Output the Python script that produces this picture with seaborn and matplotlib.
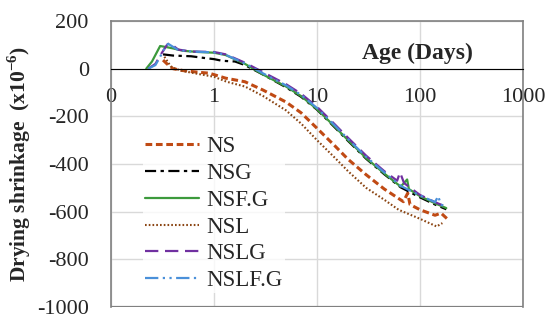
import numpy as np
import pandas as pd
import matplotlib
matplotlib.use("Agg")
import matplotlib.pyplot as plt
import seaborn as sns
from matplotlib.ticker import FixedLocator, FixedFormatter, NullLocator

# edad (dias) y retraccion (x10^-6) por mezcla
age_ns = [0.32, 0.35, 0.4, 0.5, 0.7, 0.9, 1.3, 2, 3, 5, 7, 10, 15, 20, 30, 45, 69, 76, 80, 100, 140, 160, 188]
val_ns = [36, 20, 0, -8, -15, -19, -40, -55, -90, -140, -185, -250, -325, -380, -445, -505, -558, -522, -570, -592, -615, -606, -634]

age_nsg = [0.32, 0.4, 0.6, 0.8, 1.0, 1.2, 1.6, 2, 3, 5, 7, 10, 15, 20, 30, 45, 65, 100, 140, 180]
val_nsg = [60, 55, 52, 45, 40, 33, 30, 15, -25, -78, -118, -172, -248, -303, -378, -443, -498, -540, -570, -590]

age_nsfg = [0.22, 0.25, 0.3, 0.35, 0.4, 0.5, 0.7, 1.0, 1.3, 2, 3, 5, 7, 10, 15, 20, 30, 45, 65, 75, 78, 100, 140, 180]
val_nsfg = [0, 30, 95, 90, 85, 75, 70, 67, 57, 20, -25, -75, -115, -170, -245, -300, -375, -440, -495, -465, -505, -535, -565, -585]

age_nsl = [0.33, 0.38, 0.42, 0.5, 0.7, 1.0, 1.33, 2, 3, 5, 7, 10, 15, 20, 30, 45, 62, 100, 145, 165]
val_nsl = [50, 10, 0, -10, -22, -34, -55, -75, -115, -175, -230, -300, -375, -430, -500, -550, -592, -630, -662, -648]

age_nslg = [0.23, 0.27, 0.3, 0.35, 0.37, 0.45, 0.6, 1.0, 1.3, 2, 3, 5, 7, 10, 15, 20, 30, 45, 60, 64, 70, 100, 140, 180]
val_nslg = [0, 20, 55, 100, 108, 80, 72, 70, 60, 25, -15, -65, -105, -160, -235, -290, -365, -430, -470, -435, -480, -530, -560, -580]

age_nslfg = [0.23, 0.27, 0.3, 0.34, 0.36, 0.45, 0.6, 1.0, 1.3, 2, 3, 5, 7, 10, 15, 20, 30, 45, 65, 100, 140, 150, 160, 180]
val_nslfg = [0, 15, 50, 95, 104, 78, 72, 68, 58, 22, -20, -70, -110, -165, -240, -295, -370, -435, -492, -532, -560, -535, -570, -582]

mixes = ["NS", "NSG", "NSF.G", "NSL", "NSLG", "NSLF.G"]
ages = [age_ns, age_nsg, age_nsfg, age_nsl, age_nslg, age_nslfg]
vals = [val_ns, val_nsg, val_nsfg, val_nsl, val_nslg, val_nslfg]

df = pd.concat([pd.DataFrame({"age": a, "shrinkage": v, "mix": m})
                for m, a, v in zip(mixes, ages, vals)], ignore_index=True)

colors = {"NS": "#C04A14", "NSG": "#000000", "NSF.G": "#3C9A3C",
          "NSL": "#8B4513", "NSLG": "#7030A0", "NSLF.G": "#4A90D9"}
dashes = {"NS": (2.2, 1.2), "NSG": (5, 2, 1.5, 2), "NSF.G": "",
          "NSL": (0.8, 1.0), "NSLG": (6, 3), "NSLF.G": (6, 2, 1, 2, 1, 2)}
widths = {"NS": 2.2, "NSG": 1.6, "NSF.G": 1.6, "NSL": 1.5, "NSLG": 1.6, "NSLF.G": 1.6}

sns.set_style("white")
plt.rcParams["font.family"] = ["Liberation Serif", "DejaVu Serif"]
plt.rcParams["axes.unicode_minus"] = False
plt.rcParams["mathtext.fontset"] = "custom"
plt.rcParams["mathtext.rm"] = "Liberation Serif"
plt.rcParams["mathtext.bf"] = "Liberation Serif:bold"

fig = plt.figure(figsize=(5.5, 3.23), dpi=100)
ax = fig.add_axes([0.2018, 0.0495, 0.7491, 0.8855])

sns.lineplot(data=df, x="age", y="shrinkage", hue="mix", style="mix",
             palette=colors, dashes=dashes, sort=False, estimator=None,
             hue_order=mixes, style_order=mixes, ax=ax)
for line, m in zip(ax.lines, mixes):
    line.set_linewidth(widths[m])

ax.set_xscale("log")
ax.set_xlim(0.1, 1000)
ax.set_ylim(-1000, 200)
ax.set_yticks(np.arange(-1000, 201, 200))
ax.xaxis.set_major_locator(FixedLocator([0.1, 1, 10, 100, 1000]))
ax.xaxis.set_major_formatter(FixedFormatter(["0", "1", "10", "100", "1000"]))
ax.xaxis.set_minor_locator(NullLocator())
ax.tick_params(axis="both", length=0, labelsize=16)
ax.tick_params(axis="y", pad=16)
ax.tick_params(axis="x", pad=14)
ax.grid(True, color="#d9d9d9", linewidth=1.0)

# eje x cruza en 0
ax.spines["bottom"].set_position(("data", 0))
ax.spines["bottom"].set_color("black")
ax.spines["bottom"].set_linewidth(0.8)
ax.axhline(-1000, color="#808080", linewidth=1.6, zorder=5)
for s in ["top", "left", "right"]:
    ax.spines[s].set_color("#808080")
    ax.spines[s].set_linewidth(1.2)

ax.set_xlabel("Age (Days)", fontsize=17, fontweight="bold")
ax.xaxis.set_label_coords(0.745, 0.925)
ax.set_ylabel(r"Drying shrinkage  (x10$^{\mathbf{-6}}$)", fontsize=15.5, fontweight="bold")
ax.yaxis.set_label_coords(-0.189, 0.5)

leg = ax.legend(loc="upper left", bbox_to_anchor=(0.05, 0.645), frameon=True,
                fontsize=16.5, labelspacing=0.25, handlelength=2.35,
                handletextpad=0.3, borderpad=0.1)
leg.get_frame().set_facecolor("white")
leg.get_frame().set_edgecolor("none")
for h, m in zip(leg.get_lines(), mixes):
    h.set_linewidth(widths[m])

fig.savefig("out.png", dpi=100)
